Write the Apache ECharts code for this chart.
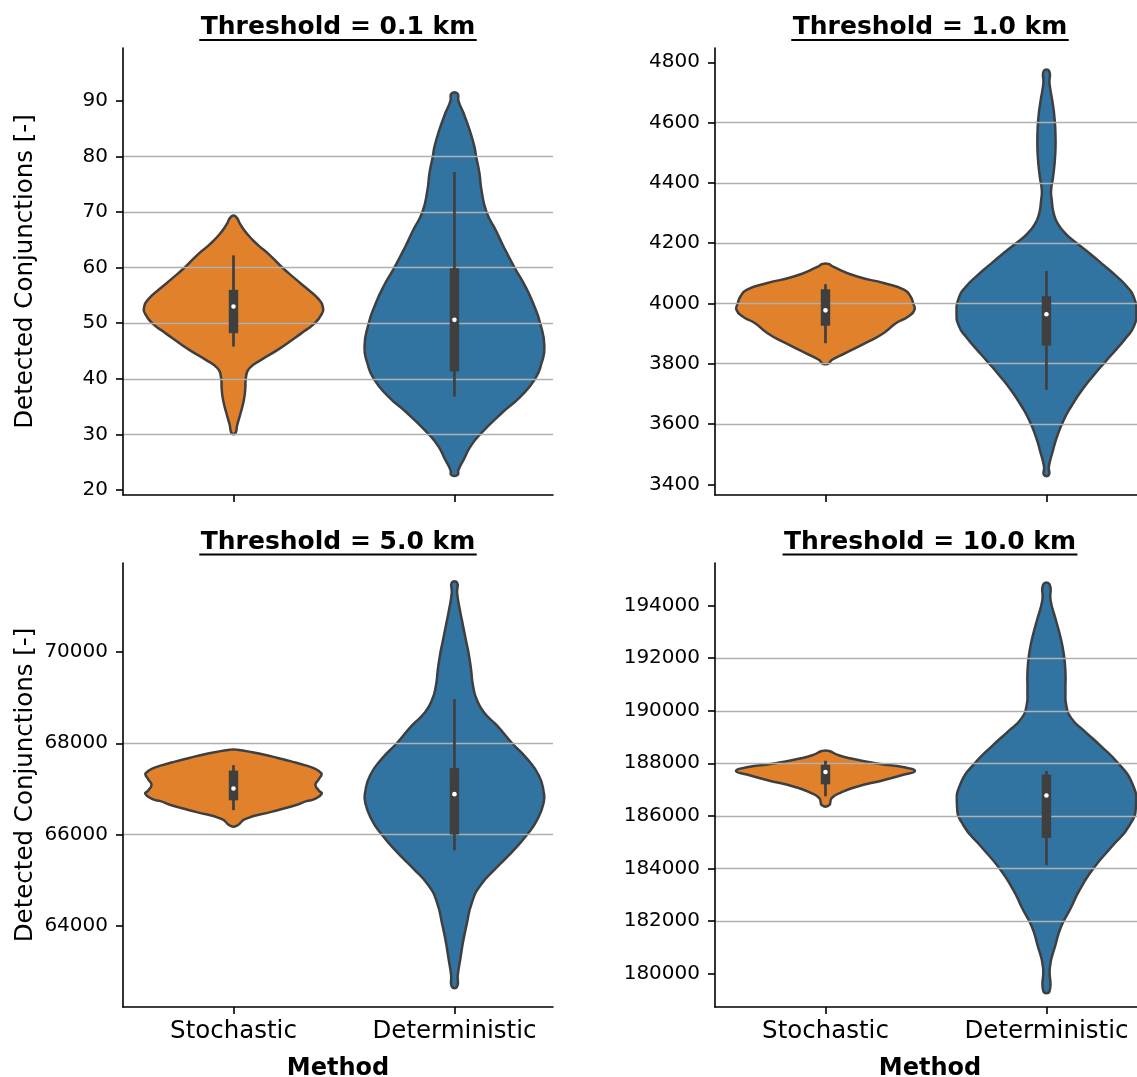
<!DOCTYPE html>
<html>
<head>
<meta charset="utf-8">
<script src="https://cdn.jsdelivr.net/npm/echarts@6/dist/echarts.min.js"></script>
<style>
  html, body { margin: 0; padding: 0; background: #fff; }
  #chart { width: 1137px; height: 1077px; }
</style>
</head>
<body>
<div id="chart"></div>
<script>
const methods = ['Stochastic', 'Deterministic'];
const thresholds = ['0.1', '1.0', '5.0', '10.0'];

// violin outlines, top to bottom: [value, half width in category units]
const stoch01 = [[69.2, 0.010], [67.7, 0.032], [65.9, 0.065], [64.1, 0.110], [62.3, 0.163], [60.2, 0.216], [58.1, 0.276], [56.1, 0.336], [54.5, 0.381], [53.0, 0.404], [51.5, 0.397], [49.7, 0.359], [48.5, 0.318], [47.3, 0.276], [45.2, 0.200], [43.4, 0.125], [41.9, 0.072], [40.4, 0.057], [38.0, 0.053], [36.2, 0.047], [33.8, 0.032], [31.7, 0.017], [30.2, 0.008]];
const determ01 = [[91.3, 0.014], [90, 0.018], [87.8, 0.041], [84.8, 0.068], [81.8, 0.090], [80, 0.098], [77, 0.113], [74, 0.122], [70, 0.145], [66.8, 0.186], [63.8, 0.222], [60, 0.272], [56.6, 0.321], [53, 0.362], [50, 0.388], [45.8, 0.407], [42.8, 0.394], [40, 0.365], [36.8, 0.299], [33.8, 0.213], [30, 0.116], [27.8, 0.072], [25.4, 0.041], [23.6, 0.018], [22.7, 0.014]];
const stoch10 = [[4131, 0.014], [4123, 0.032], [4090, 0.140], [4067, 0.267], [4045, 0.357], [4023, 0.385], [4000, 0.397], [3979, 0.403], [3957, 0.375], [3935, 0.320], [3902, 0.264], [3868, 0.180], [3835, 0.090], [3813, 0.030], [3800, 0.012]];
const determ10 = [[4771, 0.012], [4729, 0.014], [4674, 0.026], [4619, 0.036], [4552, 0.041], [4486, 0.039], [4420, 0.030], [4376, 0.021], [4343, 0.024], [4298, 0.033], [4265, 0.051], [4232, 0.086], [4199, 0.139], [4164, 0.199], [4127, 0.259], [4088, 0.320], [4055, 0.365], [4022, 0.395], [3967, 0.407], [3923, 0.395], [3890, 0.365], [3851, 0.320], [3807, 0.267], [3762, 0.214], [3713, 0.161], [3663, 0.116], [3613, 0.078], [3558, 0.048], [3503, 0.026], [3459, 0.011], [3431, 0.011]];
const stoch50 = [[67858, 0.016], [67756, 0.135], [67677, 0.200], [67598, 0.265], [67520, 0.322], [67441, 0.370], [67362, 0.393], [67323, 0.399], [67205, 0.385], [67087, 0.371], [66970, 0.385], [66890, 0.399], [66772, 0.363], [66733, 0.330], [66654, 0.288], [66496, 0.171], [66339, 0.052], [66197, 0.016]];
const determ50 = [[71519, 0.012], [71300, 0.012], [70936, 0.024], [70572, 0.039], [70208, 0.054], [70000, 0.063], [69625, 0.075], [69260, 0.084], [68969, 0.100], [68678, 0.133], [68386, 0.193], [68000, 0.261], [67658, 0.329], [67293, 0.382], [66929, 0.404], [66710, 0.404], [66346, 0.377], [66000, 0.329], [65618, 0.261], [65254, 0.186], [64889, 0.118], [64525, 0.080], [64000, 0.054], [63650, 0.039], [63286, 0.027], [62921, 0.015], [62667, 0.012]];
const stoch100 = [[188469, 0.016], [188331, 0.052], [188193, 0.110], [187986, 0.241], [187848, 0.356], [187710, 0.405], [187572, 0.356], [187366, 0.266], [187090, 0.134], [186883, 0.069], [186676, 0.028], [186400, 0.016]];
const determ100 = [[194814, 0.014], [194193, 0.019], [193503, 0.041], [192814, 0.063], [192124, 0.079], [191434, 0.086], [190745, 0.086], [190193, 0.090], [189710, 0.113], [189228, 0.172], [188676, 0.244], [187986, 0.326], [187297, 0.385], [186400, 0.405], [185641, 0.376], [184814, 0.294], [184000, 0.213], [183159, 0.149], [182469, 0.109], [181779, 0.066], [181090, 0.041], [180262, 0.016], [179324, 0.014]];

// inner box: [whisker low, q1, median, q3, whisker high]
const boxStoch = [[45.8, 48.2, 53.0, 56.0, 62.2], [3868, 3926, 3977, 4047, 4064], [66535, 66750, 67008, 67402, 67520], [186745, 187200, 187669, 187945, 188097]];
const boxDeterm = [[36.8, 41.3, 50.6, 59.9, 77.2], [3713, 3860, 3964, 4024, 4108], [65654, 66000, 66885, 67454, 68969], [184124, 185159, 186772, 187572, 187710]];

// y axis extents and ticks
const yRanges = [[19.1, 99.5], [3364.5, 4847.4], [62221, 71950], [178720, 195627]];
const yTicks01 = [20, 30, 40, 50, 60, 70, 80, 90];
const yTicks10 = [3400, 3600, 3800, 4000, 4200, 4400, 4600, 4800];
const yTicks50 = [64000, 66000, 68000, 70000];
const yTicks100 = [180000, 182000, 184000, 186000, 188000, 190000, 192000, 194000];
const yTicks = [yTicks01, yTicks10, yTicks50, yTicks100];
const yStep = [10, 200, 2000, 2000];

const profiles = [[stoch01, determ01], [stoch10, determ10], [stoch50, determ50], [stoch100, determ100]];

const colors = ['#e1812c', '#3274a1'];
const edge = '#3f3f3f';
const font = 'DejaVu Sans';

const grids = [
  { left: 123, top: 48, width: 430, height: 447 },
  { left: 715, top: 48, width: 430, height: 447 },
  { left: 123, top: 563, width: 430, height: 444 },
  { left: 715, top: 563, width: 430, height: 444 }
].map(g => Object.assign(g, { outerBoundsMode: 'none', containLabel: false }));

function boxOf(panel, i) {
  return (i === 0 ? boxStoch : boxDeterm)[panel];
}

function violinBody(panel) {
  return function (params, api) {
    const i = params.dataIndex;
    const x = api.value(0);
    const prof = profiles[panel][i];
    const left = prof.map(p => api.coord([x - p[1], p[0]]));
    const right = prof.slice().reverse().map(p => api.coord([x + p[1], p[0]]));
    return {
      type: 'polygon',
      shape: { points: left.concat(right), smooth: 0.55 },
      style: { fill: colors[i], stroke: edge, lineWidth: 2.5 }
    };
  };
}

function violinBox(panel) {
  return function (params, api) {
    const i = params.dataIndex;
    const x = api.value(0);
    const b = boxOf(panel, i);
    const lo = api.coord([x, b[0]]);
    const q1 = api.coord([x, b[1]]);
    const med = api.coord([x, b[2]]);
    const q3 = api.coord([x, b[3]]);
    const hi = api.coord([x, b[4]]);
    return {
      type: 'group',
      children: [
        { type: 'line', shape: { x1: lo[0], y1: lo[1], x2: hi[0], y2: hi[1] },
          style: { stroke: edge, lineWidth: 2.7 } },
        { type: 'rect', shape: { x: q3[0] - 4.7, y: q3[1], width: 9.4, height: q1[1] - q3[1] },
          style: { fill: edge } },
        { type: 'circle', shape: { cx: med[0], cy: med[1], r: 2.3 },
          style: { fill: '#fff' } }
      ]
    };
  };
}

const axisLineStyle = { color: '#000', width: 1.6 };

const xAxes = grids.map((g, k) => ({
  gridIndex: k,
  type: 'value',
  min: -0.5,
  max: 1.446,
  z: 5,
  axisLine: { show: true, onZero: false, lineStyle: axisLineStyle },
  axisTick: { show: true, length: 7, customValues: [0, 1], lineStyle: axisLineStyle },
  axisLabel: {
    show: k >= 2, customValues: [0, 1], formatter: v => methods[Math.round(v)],
    fontFamily: font, fontSize: 24.5, color: '#000', margin: 12
  },
  splitLine: { show: false },
  name: k >= 2 ? 'Method' : '',
  nameLocation: 'middle',
  nameGap: 50,
  nameTextStyle: { fontFamily: font, fontSize: 24, fontWeight: 'bold', color: '#000' }
}));

const yAxes = grids.map((g, k) => ({
  gridIndex: k,
  type: 'value',
  min: yRanges[k][0],
  max: yRanges[k][1],
  minInterval: yStep[k],
  maxInterval: yStep[k],
  z: 5,
  axisLine: { show: true, onZero: false, lineStyle: axisLineStyle },
  axisTick: { show: true, length: 7, customValues: yTicks[k], lineStyle: axisLineStyle },
  axisLabel: {
    customValues: yTicks[k], formatter: v => String(v),
    fontFamily: font, fontSize: 20, color: '#000', margin: 15
  },
  splitLine: { show: true, showMinLine: false, showMaxLine: false, lineStyle: { color: '#b0b0b0', width: 1.4 } },
  name: k % 2 === 0 ? 'Detected Conjunctions [-]' : '',
  nameLocation: 'middle',
  nameRotate: 90,
  nameGap: 85,
  nameTextStyle: { fontFamily: font, fontSize: 24.5, color: '#000' }
}));

const titleFont = 'bold 25px "DejaVu Sans"';
const measure = document.createElement('canvas').getContext('2d');
measure.font = titleFont;

const titles = thresholds.map((t, k) => ({
  text: 'Threshold = ' + t + ' km',
  left: grids[k].left + grids[k].width / 2,
  top: k < 2 ? 15 : 530,
  textAlign: 'center',
  padding: 0,
  textStyle: { fontFamily: font, fontSize: 25, fontWeight: 'bold', color: '#000' }
}));

const underlines = titles.map((t, k) => {
  const w = measure.measureText(t.text).width + 3;
  const cx = t.left;
  const y = k < 2 ? 40 : 554.5;
  return { type: 'line', shape: { x1: cx - w / 2, y1: y, x2: cx + w / 2, y2: y }, style: { stroke: '#000', lineWidth: 2 } };
});

const series = [];
grids.forEach((g, k) => {
  const data = methods.map((m, i) => [i, boxOf(k, i)[2]]);
  series.push({
    type: 'custom', name: 'violin' + k, xAxisIndex: k, yAxisIndex: k,
    z: 1, clip: false, renderItem: violinBody(k), data: data
  });
  series.push({
    type: 'custom', name: 'box' + k, xAxisIndex: k, yAxisIndex: k,
    z: 10, clip: false, renderItem: violinBox(k), data: data
  });
});

const chart = echarts.init(document.getElementById('chart'), null, { renderer: 'canvas' });
chart.setOption({
  backgroundColor: '#fff',
  animation: false,
  title: titles,
  grid: grids,
  xAxis: xAxes,
  yAxis: yAxes,
  series: series,
  graphic: underlines
});
</script>
</body>
</html>
